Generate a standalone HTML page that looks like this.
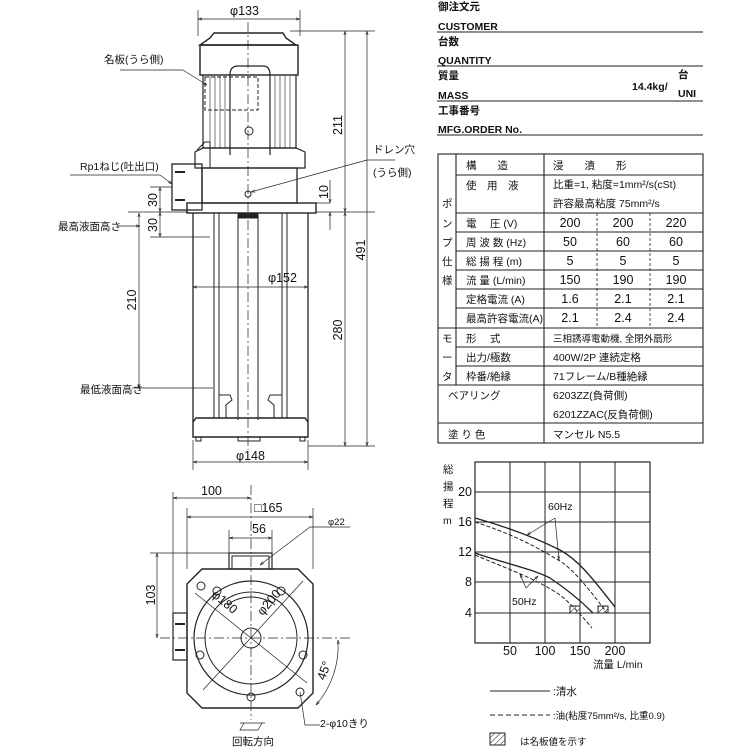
<!DOCTYPE html>
<html><head><meta charset="utf-8"><style>
html,body{margin:0;padding:0;background:#fff}
svg{display:block}
text{font-family:"Liberation Sans","Noto Sans CJK JP",sans-serif;fill:#111}
.t{font-size:10.5px}
.s{font-size:9.5px}
.n{font-size:12.5px}
.h{font-size:10.5px;font-weight:bold}
</style></head><body>
<svg width="750" height="750" viewBox="0 0 750 750" xmlns="http://www.w3.org/2000/svg">
<defs>
<marker id="a" viewBox="0 0 10 10" refX="10" refY="5" markerWidth="6" markerHeight="6" orient="auto-start-reverse"><path d="M0,2 L10,5 L0,8" fill="none" stroke="#222" stroke-width="1.3"/></marker>
<pattern id="h" width="4" height="4" patternUnits="userSpaceOnUse" patternTransform="rotate(45)"><line x1="0" y1="0" x2="0" y2="4" stroke="#222" stroke-width="1"/></pattern>
</defs>
<g stroke="#222" fill="none" stroke-width="1">
<line x1="248" y1="22" x2="248" y2="450" stroke-dasharray="10,3,2,3" stroke-width="0.7"/>
<path d="M214,33 L283,33 L286,38 L296,45 L200,45 L210,38 Z" stroke-width="1.4"/>
<rect x="200" y="45" width="98" height="30" stroke-width="1.4"/>
<path d="M203,75 L203,148 L296,148 L296,75" stroke-width="1.2"/>
<g stroke-width="0.6">
<line x1="210" y1="76" x2="210" y2="148"/><line x1="215" y1="76" x2="215" y2="148"/><line x1="220" y1="76" x2="220" y2="148"/><line x1="225" y1="76" x2="225" y2="148"/>
<line x1="275" y1="76" x2="275" y2="148"/><line x1="280" y1="76" x2="280" y2="148"/><line x1="285" y1="76" x2="285" y2="148"/><line x1="290" y1="76" x2="290" y2="148"/>
</g>
<path d="M230,155 L230,75 Q230,66 238,66 L263,66 Q270,66 270,75 L270,155" stroke-width="1.2"/>
<circle cx="249" cy="131" r="4"/>
<rect x="205" y="77" width="53" height="33" stroke-dasharray="4,2"/>
<path d="M195,152 L195,168 L305,168 L305,152 L296,148 L203,148 Z" stroke-width="1.2"/>
<path d="M197,150 L205,142 L210,142 L210,168"/>
<rect x="202" y="168" width="95" height="35" stroke-width="1.3"/>
<rect x="172" y="164" width="30" height="46" stroke-width="1.3"/>
<line x1="175" y1="172" x2="185" y2="172" stroke-width="2"/><line x1="175" y1="200" x2="185" y2="200" stroke-width="2"/>
<circle cx="248" cy="194" r="3"/>
<rect x="187" y="203" width="129" height="10" stroke-width="1.4"/>
<line x1="193" y1="213" x2="193" y2="422" stroke-width="1.3"/><line x1="308" y1="213" x2="308" y2="422" stroke-width="1.3"/>
<line x1="214" y1="213" x2="214" y2="418"/><line x1="219" y1="213" x2="219" y2="418"/>
<line x1="282" y1="213" x2="282" y2="418"/><line x1="287" y1="213" x2="287" y2="418"/>
<line x1="238" y1="217" x2="238" y2="420"/><line x1="258" y1="217" x2="258" y2="420"/>
<rect x="238" y="214" width="20" height="4" fill="#222"/>
<path d="M219,395 L230,395 L232,400 L226,405 L226,418 M282,395 L270,395 L268,400 L274,405 L274,418"/>
<path d="M193,422 L196,418 L305,418 L308,422 L308,437 L193,437 Z" stroke-width="1.4"/>
<rect x="196" y="437" width="5" height="4"/><rect x="300" y="437" width="5" height="4"/><rect x="238" y="437" width="22" height="4"/>
<line x1="198" y1="10" x2="198" y2="36" stroke-width="0.7"/><line x1="300" y1="10" x2="300" y2="36" stroke-width="0.7"/>
<line x1="198" y1="19" x2="300" y2="19" stroke-width="0.7" marker-start="url(#a)" marker-end="url(#a)"/>
<line x1="290" y1="31" x2="375" y2="31" stroke-width="0.7"/>
<line x1="316" y1="212" x2="375" y2="212" stroke-width="0.7"/>
<line x1="308" y1="446" x2="375" y2="446" stroke-width="0.7"/>
<line x1="345" y1="31" x2="345" y2="212" stroke-width="0.7" marker-start="url(#a)" marker-end="url(#a)"/>
<line x1="345" y1="212" x2="345" y2="446" stroke-width="0.7" marker-start="url(#a)" marker-end="url(#a)"/>
<line x1="367" y1="31" x2="367" y2="446" stroke-width="0.7" marker-start="url(#a)" marker-end="url(#a)"/>
<line x1="298" y1="203" x2="330" y2="203" stroke-width="0.7"/>
<line x1="330" y1="180" x2="330" y2="203" stroke-width="0.7" marker-end="url(#a)"/><line x1="330" y1="230" x2="330" y2="212" stroke-width="0.7" marker-end="url(#a)"/>
<line x1="251" y1="192" x2="367" y2="160" stroke-width="0.7" marker-start="url(#a)"/>
<line x1="367" y1="160" x2="395" y2="160" stroke-width="0.7"/>
<line x1="193" y1="250" x2="193" y2="295" stroke-width="0.7"/><line x1="308" y1="250" x2="308" y2="295" stroke-width="0.7"/>
<line x1="193" y1="287" x2="308" y2="287" stroke-width="0.7" marker-start="url(#a)" marker-end="url(#a)"/>
<line x1="193" y1="440" x2="193" y2="470" stroke-width="0.7"/><line x1="308" y1="440" x2="308" y2="470" stroke-width="0.7"/>
<line x1="193" y1="462" x2="308" y2="462" stroke-width="0.7" marker-start="url(#a)" marker-end="url(#a)"/>
<line x1="150" y1="187" x2="172" y2="187" stroke-width="0.7"/><line x1="128" y1="212" x2="187" y2="212" stroke-width="0.7"/>
<line x1="150" y1="237" x2="210" y2="237" stroke-width="0.7"/>
<line x1="160" y1="187" x2="160" y2="212" stroke-width="0.7" marker-start="url(#a)" marker-end="url(#a)"/>
<line x1="160" y1="212" x2="160" y2="237" stroke-width="0.7" marker-start="url(#a)" marker-end="url(#a)"/>
<line x1="139" y1="213" x2="139" y2="388" stroke-width="0.7" marker-start="url(#a)" marker-end="url(#a)"/>
<line x1="132" y1="388" x2="213" y2="388" stroke-width="0.7"/>
<line x1="118" y1="226" x2="140" y2="226" stroke-width="0.7" marker-end="url(#a)"/>
<line x1="70" y1="175" x2="160" y2="175" stroke-width="0.7"/><line x1="160" y1="175" x2="172" y2="184" stroke-width="0.7" marker-end="url(#a)"/>
<line x1="120" y1="70" x2="183" y2="70" stroke-width="0.7"/><line x1="183" y1="70" x2="207" y2="85" stroke-width="0.7" marker-end="url(#a)"/>
</g>
<g class="t">
<text x="230" y="15" class="n">φ133</text>
<text x="104" y="63">名板(うら側)</text>
<text x="80" y="170">Rp1ねじ(吐出口)</text>
<text x="58" y="230">最高液面高さ</text>
<text x="80" y="393">最低液面高さ</text>
<text x="373" y="153">ドレン穴</text>
<text x="373" y="176">(うら側)</text>
<text x="268" y="282" class="n">φ152</text>
<text x="236" y="460" class="n">φ148</text>
<text class="n" transform="translate(342,125) rotate(-90)" text-anchor="middle">211</text>
<text class="n" transform="translate(342,330) rotate(-90)" text-anchor="middle">280</text>
<text class="n" transform="translate(365,250) rotate(-90)" text-anchor="middle">491</text>
<text class="n" transform="translate(328,192) rotate(-90)" text-anchor="middle">10</text>
<text class="n" transform="translate(157,200) rotate(-90)" text-anchor="middle">30</text>
<text class="n" transform="translate(157,225) rotate(-90)" text-anchor="middle">30</text>
<text class="n" transform="translate(136,300) rotate(-90)" text-anchor="middle">210</text>
</g>
<g stroke="#222" fill="none" stroke-width="1">
<path d="M202,569 L298,569 L313,584 L313,693 L298,708 L202,708 L187,693 L187,584 Z" stroke-width="1.4"/>
<rect x="229" y="553" width="43" height="16" stroke-width="1.2"/><rect x="232" y="556" width="37" height="13"/>
<rect x="173" y="613" width="14" height="47" stroke-width="1.2"/>
<line x1="175" y1="624" x2="185" y2="624" stroke-width="2"/><line x1="175" y1="650" x2="185" y2="650" stroke-width="2"/>
<circle cx="251" cy="638" r="57" stroke-width="1.2"/>
<circle cx="251" cy="638" r="46"/>
<circle cx="251" cy="638" r="10"/>
<path d="M227,605 A40,40 0 0 1 275,605"/>
<circle cx="201" cy="586" r="4"/><circle cx="217" cy="591" r="4"/><circle cx="281" cy="591" r="4"/>
<circle cx="200" cy="655" r="4"/><circle cx="303" cy="655" r="4"/><circle cx="251" cy="697" r="4"/><circle cx="300" cy="692" r="4"/>
<line x1="160" y1="638" x2="350" y2="638" stroke-dasharray="10,3,2,3" stroke-width="0.7"/>
<line x1="251" y1="485" x2="251" y2="720" stroke-dasharray="10,3,2,3" stroke-width="0.7"/>
<line x1="195" y1="593" x2="307" y2="683" stroke-width="0.7"/>
<line x1="203" y1="690" x2="303" y2="581" stroke-width="0.7"/>
<line x1="173" y1="492" x2="173" y2="613" stroke-width="0.7"/><line x1="187" y1="508" x2="187" y2="569" stroke-width="0.7"/>
<line x1="313" y1="508" x2="313" y2="569" stroke-width="0.7"/>
<line x1="173" y1="498" x2="251" y2="498" stroke-width="0.7" marker-start="url(#a)" marker-end="url(#a)"/>
<line x1="187" y1="517" x2="313" y2="517" stroke-width="0.7" marker-start="url(#a)" marker-end="url(#a)"/>
<line x1="229" y1="530" x2="229" y2="553" stroke-width="0.7"/><line x1="272" y1="530" x2="272" y2="553" stroke-width="0.7"/>
<line x1="229" y1="538" x2="272" y2="538" stroke-width="0.7" marker-start="url(#a)" marker-end="url(#a)"/>
<line x1="150" y1="553" x2="229" y2="553" stroke-width="0.7"/>
<line x1="157" y1="553" x2="157" y2="638" stroke-width="0.7" marker-start="url(#a)" marker-end="url(#a)"/>
<line x1="260" y1="565" x2="310" y2="527" stroke-width="0.7" marker-start="url(#a)"/><line x1="310" y1="527" x2="350" y2="527" stroke-width="0.7"/>
<path d="M338,640 A90,90 0 0 1 316,705" stroke-width="0.7" marker-start="url(#a)" marker-end="url(#a)"/>
<path d="M300,692 L305,725 L320,725" stroke-width="0.7"/>
<path d="M240,723 L265,723 M244,723 L240,730 L258,730 L262,723" stroke-width="0.7"/>
</g>
<g class="t">
<text x="201" y="495" class="n">100</text>
<text x="254" y="512" class="n">□165</text>
<text x="252" y="533" class="n">56</text>
<text x="328" y="525" class="s">φ22</text>
<text class="n" transform="translate(155,595) rotate(-90)" text-anchor="middle">103</text>
<text class="n" transform="translate(222,605) rotate(40)" text-anchor="middle">φ180</text>
<text class="n" transform="translate(272,605) rotate(-50)" text-anchor="middle">φ200</text>
<text class="n" transform="translate(328,672) rotate(-70)" text-anchor="middle">45°</text>
<text x="320" y="727">2-φ10きり</text>
<text x="232" y="745">回転方向</text>
</g>
<g stroke="#222" stroke-width="1.1"><line x1="437" y1="32" x2="703" y2="32"/><line x1="437" y1="66" x2="703" y2="66"/><line x1="437" y1="101" x2="703" y2="101"/><line x1="437" y1="135" x2="703" y2="135"/></g>
<g class="h">
<text x="438" y="10">御注文元</text><text x="438" y="30">CUSTOMER</text>
<text x="438" y="45">台数</text><text x="438" y="64">QUANTITY</text>
<text x="438" y="79">質量</text><text x="438" y="99">MASS</text>
<text x="632" y="90">14.4kg/</text><text x="678" y="78">台</text><text x="678" y="97">UNI</text>
<text x="438" y="114">工事番号</text><text x="438" y="133">MFG.ORDER No.</text>
</g>
<g stroke="#222" fill="none" stroke-width="1.1">
<rect x="438" y="154" width="265" height="289"/>
<line x1="456" y1="154" x2="456" y2="385"/>
<line x1="544" y1="154" x2="544" y2="443"/>
<line x1="456" y1="175" x2="703" y2="175"/>
<line x1="456" y1="213" x2="703" y2="213"/>
<line x1="456" y1="232" x2="703" y2="232"/>
<line x1="456" y1="251" x2="703" y2="251"/>
<line x1="456" y1="270" x2="703" y2="270"/>
<line x1="456" y1="289" x2="703" y2="289"/>
<line x1="456" y1="308" x2="703" y2="308"/>
<line x1="438" y1="328" x2="703" y2="328"/>
<line x1="456" y1="347" x2="703" y2="347"/>
<line x1="456" y1="366" x2="703" y2="366"/>
<line x1="438" y1="385" x2="703" y2="385"/>
<line x1="438" y1="423" x2="703" y2="423"/>
<line x1="597" y1="213" x2="597" y2="328" stroke-dasharray="3,2" stroke-width="0.8"/>
<line x1="650" y1="213" x2="650" y2="328" stroke-dasharray="3,2" stroke-width="0.8"/>
</g>
<g class="t">
<text x="466" y="169">構　　造</text><text x="553" y="169">浸　　漬　　形</text>
<text x="466" y="189">使　用　液</text><text x="553" y="188">比重=1, 粘度=1mm²/s(cSt)</text><text x="553" y="207">許容最高粘度 75mm²/s</text>
<text x="466" y="227">電　 圧 (V)</text>
<text x="466" y="246">周 波 数 (Hz)</text>
<text x="466" y="265">総 揚 程 (m)</text>
<text x="466" y="284">流 量 (L/min)</text>
<text x="466" y="303">定格電流 (A)</text>
<text x="466" y="322">最高許容電流(A)</text>
<text x="466" y="342">形　 式</text><text x="553" y="342" class="s">三相誘導電動機, 全閉外扇形</text>
<text x="466" y="361">出力/極数</text><text x="553" y="361">400W/2P  連続定格</text>
<text x="466" y="380">枠番/絶縁</text><text x="553" y="380">71フレーム/B種絶縁</text>
<text x="448" y="399">ベアリング</text><text x="553" y="399">6203ZZ(負荷側)</text><text x="553" y="418">6201ZZAC(反負荷側)</text>
<text x="448" y="438">塗 り 色</text><text x="553" y="438">マンセル  N5.5</text>
<text x="442" y="207">ポ</text><text x="442" y="227">ン</text><text x="442" y="246">プ</text><text x="442" y="265">仕</text><text x="442" y="284">様</text>
<text x="442" y="342">モ</text><text x="442" y="361">ー</text><text x="442" y="380">タ</text>
</g>
<g class="n" text-anchor="middle">
<text x="570" y="227">200</text><text x="623" y="227">200</text><text x="676" y="227">220</text>
<text x="570" y="246">50</text><text x="623" y="246">60</text><text x="676" y="246">60</text>
<text x="570" y="265">5</text><text x="623" y="265">5</text><text x="676" y="265">5</text>
<text x="570" y="284">150</text><text x="623" y="284">190</text><text x="676" y="284">190</text>
<text x="570" y="303">1.6</text><text x="623" y="303">2.1</text><text x="676" y="303">2.1</text>
<text x="570" y="322">2.1</text><text x="623" y="322">2.4</text><text x="676" y="322">2.4</text>
</g>
<g stroke="#222" fill="none" stroke-width="1">
<rect x="475" y="462" width="175" height="181" stroke-width="1.2"/>
<line x1="510" y1="462" x2="510" y2="643"/><line x1="545" y1="462" x2="545" y2="643"/><line x1="580" y1="462" x2="580" y2="643"/><line x1="615" y1="462" x2="615" y2="643"/>
<line x1="475" y1="492" x2="650" y2="492"/><line x1="475" y1="522" x2="650" y2="522"/><line x1="475" y1="552" x2="650" y2="552"/><line x1="475" y1="582" x2="650" y2="582"/><line x1="475" y1="613" x2="650" y2="613"/>
<path d="M475,518 C500,525 530,535 560,550 C578,560 590,575 615,607" stroke-width="1.3"/>
<path d="M475,522 C500,530 530,542 563,563 C575,572 590,590 607,613" stroke-dasharray="4,2"/>
<path d="M475,553 C500,562 530,568 550,578 C565,588 580,600 593,613" stroke-width="1.3"/>
<path d="M475,555 C505,568 535,578 560,595 C575,607 585,620 592,628" stroke-dasharray="4,2"/>
<line x1="555" y1="518" x2="527" y2="535" stroke-width="0.7" marker-end="url(#a)"/>
<line x1="555" y1="518" x2="559" y2="560" stroke-width="0.7" marker-end="url(#a)"/>
<line x1="526" y1="588" x2="520" y2="574" stroke-width="0.7" marker-end="url(#a)"/>
<line x1="526" y1="588" x2="538" y2="576" stroke-width="0.7" marker-end="url(#a)"/>
<rect x="570" y="606" width="10" height="7" fill="url(#h)"/><rect x="598" y="606" width="10" height="7" fill="url(#h)"/>
<line x1="490" y1="691" x2="550" y2="691"/>
<line x1="490" y1="715" x2="550" y2="715" stroke-dasharray="5,3"/>
<rect x="490" y="733" width="15" height="12" fill="url(#h)"/>
</g>
<g class="t">
<text x="443" y="473">総</text><text x="443" y="490">揚</text><text x="443" y="507">程</text><text x="443" y="524">m</text>
<g text-anchor="end" class="n"><text x="472" y="496">20</text><text x="472" y="526">16</text><text x="472" y="556">12</text><text x="472" y="586">8</text><text x="472" y="617">4</text></g>
<g text-anchor="middle" class="n"><text x="510" y="655">50</text><text x="545" y="655">100</text><text x="580" y="655">150</text><text x="615" y="655">200</text></g>
<text x="593" y="668">流量 L/min</text>
<text x="548" y="510">60Hz</text>
<text x="512" y="605">50Hz</text>
<text x="553" y="695">:清水</text>
<text x="553" y="719" class="s">:油(粘度75mm²/s, 比重0.9)</text>
<text x="520" y="745" class="s">は名板値を示す</text>
</g>
</svg>
</body></html>
